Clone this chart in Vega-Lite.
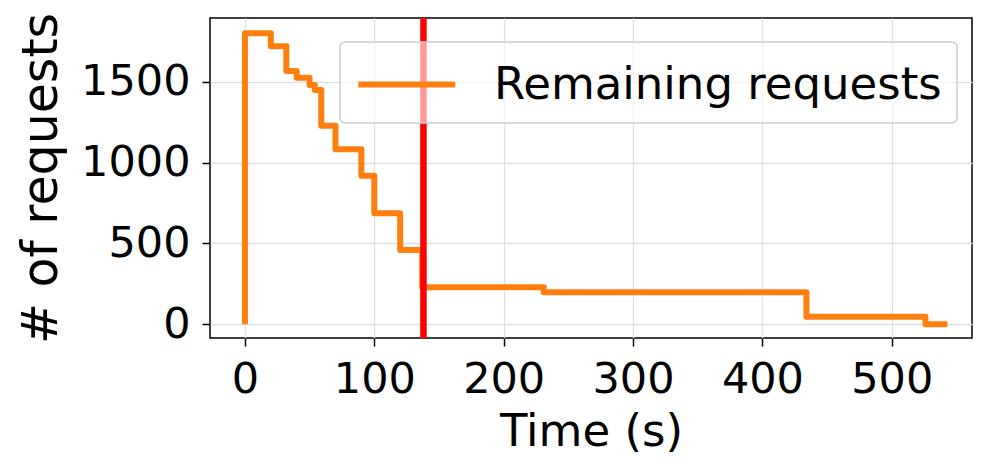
{
  "$schema": "https://vega.github.io/schema/vega-lite/v6.json",
  "width": 762,
  "height": 320,
  "autosize": {"type": "none"},
  "padding": {"left": 210, "top": 18, "right": 25, "bottom": 135},
  "background": "white",
  "config": {
    "font": "DejaVu Sans",
    "view": {"stroke": "black", "strokeWidth": 1.5},
    "axis": {
      "domain": false,
      "tickColor": "black",
      "tickWidth": 1.5,
      "tickSize": 8,
      "labelFontSize": 43,
      "labelColor": "black",
      "labelPadding": 12,
      "titleFontSize": 45,
      "titleFontWeight": "normal",
      "titleColor": "black",
      "gridColor": "#e0e0e0",
      "gridWidth": 1.3
    },
    "legend": {
      "orient": "none",
      "legendX": 130,
      "legendY": 24,
      "strokeColor": "#cccccc",
      "strokeWidth": 1.5,
      "cornerRadius": 5,
      "fillColor": "rgba(255,255,255,0.6)",
      "padding": 15,
      "symbolType": "M-1,0H3",
      "symbolSize": 2352,
      "symbolStrokeWidth": 6,
      "labelFontSize": 45,
      "labelOffset": 84,
      "labelColor": "black",
      "labelLimit": 600
    }
  },
  "datasets": {
    "remaining": [
      {"t": 0, "requests": 0, "series": "Remaining requests"},
      {"t": 0, "requests": 1800, "series": "Remaining requests"},
      {"t": 20, "requests": 1720, "series": "Remaining requests"},
      {"t": 32, "requests": 1566, "series": "Remaining requests"},
      {"t": 40, "requests": 1525, "series": "Remaining requests"},
      {"t": 50, "requests": 1480, "series": "Remaining requests"},
      {"t": 54, "requests": 1449, "series": "Remaining requests"},
      {"t": 59, "requests": 1228, "series": "Remaining requests"},
      {"t": 70, "requests": 1082, "series": "Remaining requests"},
      {"t": 90, "requests": 919, "series": "Remaining requests"},
      {"t": 100, "requests": 686, "series": "Remaining requests"},
      {"t": 120, "requests": 460, "series": "Remaining requests"},
      {"t": 137, "requests": 229, "series": "Remaining requests"},
      {"t": 231, "requests": 198, "series": "Remaining requests"},
      {"t": 434, "requests": 47, "series": "Remaining requests"},
      {"t": 526, "requests": 0, "series": "Remaining requests"},
      {"t": 543, "requests": 0, "series": "Remaining requests"}
    ],
    "marker": [{"t": 138}]
  },
  "layer": [
    {
      "data": {"name": "remaining"},
      "mark": {"type": "line", "interpolate": "step-after", "strokeWidth": 6, "strokeJoin": "round"},
      "encoding": {
        "x": {
          "field": "t",
          "type": "quantitative",
          "scale": {"domain": [-27, 562], "nice": false, "zero": false},
          "axis": {"values": [0, 100, 200, 300, 400, 500], "format": "d", "title": "Time (s)", "titlePadding": 8}
        },
        "y": {
          "field": "requests",
          "type": "quantitative",
          "scale": {"domain": [-85, 1894], "nice": false, "zero": false},
          "axis": {"values": [0, 500, 1000, 1500], "format": "d", "title": "# of requests", "titleFontSize": 49, "titlePadding": 14}
        },
        "color": {
          "field": "series",
          "type": "nominal",
          "scale": {"range": ["#ff7f0e"]},
          "legend": {"title": null}
        }
      }
    },
    {
      "data": {"name": "marker"},
      "mark": {"type": "rule", "color": "#ff0000", "strokeWidth": 6.5},
      "encoding": {
        "x": {"field": "t", "type": "quantitative"}
      }
    }
  ]
}
